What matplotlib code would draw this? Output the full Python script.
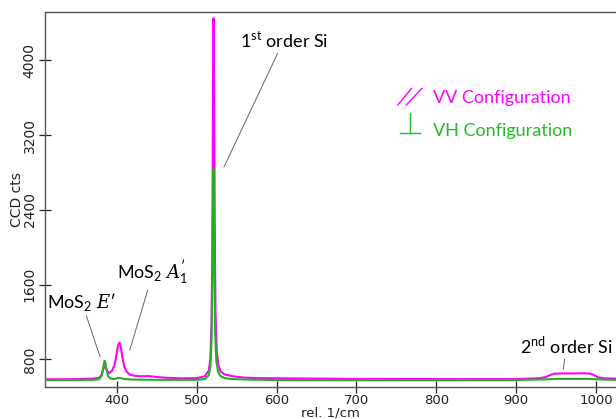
"""
Raman spectrum of MoS2 on Si: VV vs VH polarisation configuration.
"""
import matplotlib
matplotlib.use('Agg')
import matplotlib.pyplot as plt

# ── Data ───────────────────────────────────────────────────────────────────────
shift_vv = [310, 330, 350, 370, 378, 381, 383, 385, 387, 390, 394, 397, 399, 401,
            402, 403, 404, 405, 407, 409, 412, 416, 422, 430, 440, 450, 460, 480,
            500, 510, 515, 517, 518.5, 519.5, 520.2, 520.8, 521.2, 521.8, 522.5,
            523.5, 525, 527, 530, 535, 545, 560, 580, 620, 700, 800, 900, 930,
            938, 943, 948, 955, 970, 985, 992, 997, 1002, 1010, 1025]
cts_vv = [588, 588, 590, 595, 605, 640, 700, 730, 690, 650, 680, 740, 830, 930,
          965, 978, 965, 920, 820, 730, 670, 640, 625, 620, 622, 612, 605, 598,
          600, 620, 680, 800, 1200, 2000, 3400, 4450, 4450, 3600, 2300,
          1300, 900, 740, 670, 640, 620, 605, 600, 597, 592, 590, 590, 600,
          615, 635, 648, 650, 650, 652, 648, 635, 610, 598, 595]

shift_vh = [310, 340, 370, 378, 381, 383, 384.5, 385.5, 387, 389, 392, 396, 400,
            403, 406, 410, 420, 450, 500, 510, 515, 517, 518.5, 519.5, 520.3,
            520.8, 521.3, 522, 523, 524.5, 527, 530, 535, 545, 560, 600, 700,
            800, 900, 940, 950, 990, 1000, 1010, 1025]
cts_vh = [580, 580, 582, 590, 630, 720, 785, 770, 690, 620, 595, 590, 598,
          603, 597, 590, 585, 582, 582, 590, 630, 720, 1000, 1700, 2500,
          2840, 2600, 1800, 1100, 780, 660, 620, 600, 590, 585, 580, 578,
          578, 580, 588, 592, 592, 588, 584, 582]

x_ticks = [400, 500, 600, 700, 800, 900, 1000]
y_ticks = [800, 1600, 2400, 3200, 4000]

VV_COLOR = '#FF00FF'
VH_COLOR = '#22B022'
VH_TEXT = '#22BB22'

plt.rcParams['mathtext.fontset'] = 'custom'
plt.rcParams['mathtext.rm'] = 'Lato'
plt.rcParams['mathtext.it'] = 'DejaVu Serif:italic'

# ── Plot ───────────────────────────────────────────────────────────────────────
fig = plt.figure(figsize=(6.16, 4.19), dpi=100)
ax = fig.add_axes([0.0731, 0.0752, 0.9269, 0.8969])

ax.plot(shift_vv, cts_vv, color=VV_COLOR, lw=1.5, zorder=2)
ax.plot(shift_vh, cts_vh, color=VH_COLOR, lw=1.5, zorder=3)

ax.set_xlim(310, 1025)
ax.set_ylim(500, 4520)
ax.set_xticks(x_ticks)
ax.set_yticks(y_ticks)
ax.tick_params(direction='inout', length=8, width=0.9, labelsize=10,
               colors='#222222')
ax.tick_params(axis='x', pad=0.5, labelsize=9.5)
ax.tick_params(axis='y', pad=2)
for lbl in ax.get_yticklabels():
    lbl.set_rotation(90)
    lbl.set_va('center')
ax.spines['right'].set_visible(False)
for s in ('left', 'top', 'bottom'):
    ax.spines[s].set_color('#555555')
    ax.spines[s].set_linewidth(1.0)

ax.set_xlabel('rel. 1/cm', fontsize=9.5, labelpad=0, color='#222222')
ax.set_ylabel('CCD cts', fontsize=10, labelpad=-1, color='#222222')

# Peak annotations
ann_kw = dict(fontsize=13, family=['Lato', 'DejaVu Sans'], ha='center',
              va='center',
              arrowprops=dict(arrowstyle='-', color='#666666', lw=0.7,
                              shrinkA=0, shrinkB=0))
ax.annotate(r"1$^{\mathrm{st}}$ order Si", xy=(534, 2857), xytext=(609, 4214),
            **ann_kw)
ax.annotate("MoS$_{2}$ $E$\u2032", xy=(379, 828), xytext=(356, 1413),
            **ann_kw)
ax.annotate(r"MoS$_{2}$ $A_{1}^{\prime}$", xy=(416, 899), xytext=(445, 1723),
            **ann_kw)
ax.annotate(r"2$^{\mathrm{nd}}$ order Si", xy=(959, 696), xytext=(963, 953),
            **ann_kw)

# Polarisation legend: hand-drawn glyphs plus coloured text
glyph_kw = dict(transform=ax.transAxes, clip_on=False, lw=1.0)
ax.plot([0.618, 0.642], [0.752, 0.796], color=VV_COLOR, **glyph_kw)
ax.plot([0.633, 0.660], [0.752, 0.796], color=VV_COLOR, **glyph_kw)
ax.plot([0.639, 0.639], [0.730, 0.677], color=VH_TEXT, **glyph_kw)
ax.plot([0.622, 0.657], [0.677, 0.677], color=VH_TEXT, **glyph_kw)
ax.text(0.679, 0.770, 'VV Configuration', transform=ax.transAxes,
        color=VV_COLOR, fontsize=13, family='Lato', ha='left', va='center')
ax.text(0.679, 0.683, 'VH Configuration', transform=ax.transAxes,
        color=VH_TEXT, fontsize=13, family='Lato', ha='left', va='center')

fig.savefig('out.png', dpi=100)
